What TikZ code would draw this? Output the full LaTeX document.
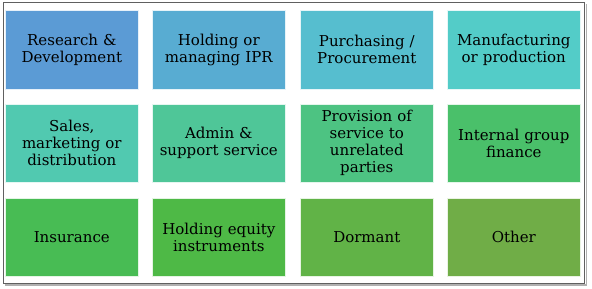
\documentclass[tikz,border=0pt]{standalone}
\usepackage{fontspec}
\setmainfont{DejaVu Serif}
\definecolor{c1}{HTML}{5B9BD5}
\definecolor{c2}{HTML}{58ACD2}
\definecolor{c3}{HTML}{56BECF}
\definecolor{c4}{HTML}{53CCC8}
\definecolor{c5}{HTML}{51C9B0}
\definecolor{c6}{HTML}{4FC698}
\definecolor{c7}{HTML}{4DC382}
\definecolor{c8}{HTML}{4AC06A}
\definecolor{c9}{HTML}{48BC54}
\definecolor{c10}{HTML}{4EB946}
\definecolor{c11}{HTML}{61B347}
\definecolor{c12}{HTML}{70AD47}
\definecolor{framegray}{HTML}{606060}
\definecolor{shadowgray}{HTML}{B0B0B0}
\tikzset{
  tile/.style={draw=white!85!#1, line width=0.6pt, fill=#1,
    minimum width=133pt, minimum height=78.5pt, inner sep=0pt,
    align=center, text width=130pt,
    font=\fontsize{15}{17}\selectfont, text=black, anchor=north west},
}
\begin{document}
\begin{tikzpicture}[x=1pt,y=-1pt]
\useasboundingbox (0,0) rectangle (592,289);
\fill[white] (0,0) rectangle (592,289);
% frame with shadow
\draw[shadowgray, line width=1.2pt] (586.3,4) -- (586.3,285) -- (4.5,285);
\draw[framegray, line width=1.3pt] (3.3,2.5) rectangle (584.8,283.3);
% row 1
\node[tile=c1]  (rd)   at (5,10)   {Research \&\\Development};
\node[tile=c2]  (hip)  at (152,10) {Holding or\\managing IPR};
\node[tile=c3]  (pur)  at (300,10) {Purchasing /\\Procurement};
\node[tile=c4]  (man)  at (447,10) {Manufacturing\\or production};
% row 2
\node[tile=c5]  (sal)  at (5,103.5)   {Sales,\\marketing or\\distribution};
\node[tile=c6]  (adm)  at (152,103.5) {Admin \&\\support service};
\node[tile=c7]  (prov) at (300,103.5) {Provision of\\service to\\unrelated\\parties};
\node[tile=c8]  (igf)  at (447,103.5) {Internal group\\finance};
% row 3
\node[tile=c9]  (ins)  at (5,197.5)   {Insurance};
\node[tile=c10] (hei)  at (152,197.5) {Holding equity\\instruments};
\node[tile=c11] (dor)  at (300,197.5) {Dormant};
\node[tile=c12] (oth)  at (447,197.5) {Other};
\end{tikzpicture}
\end{document}
